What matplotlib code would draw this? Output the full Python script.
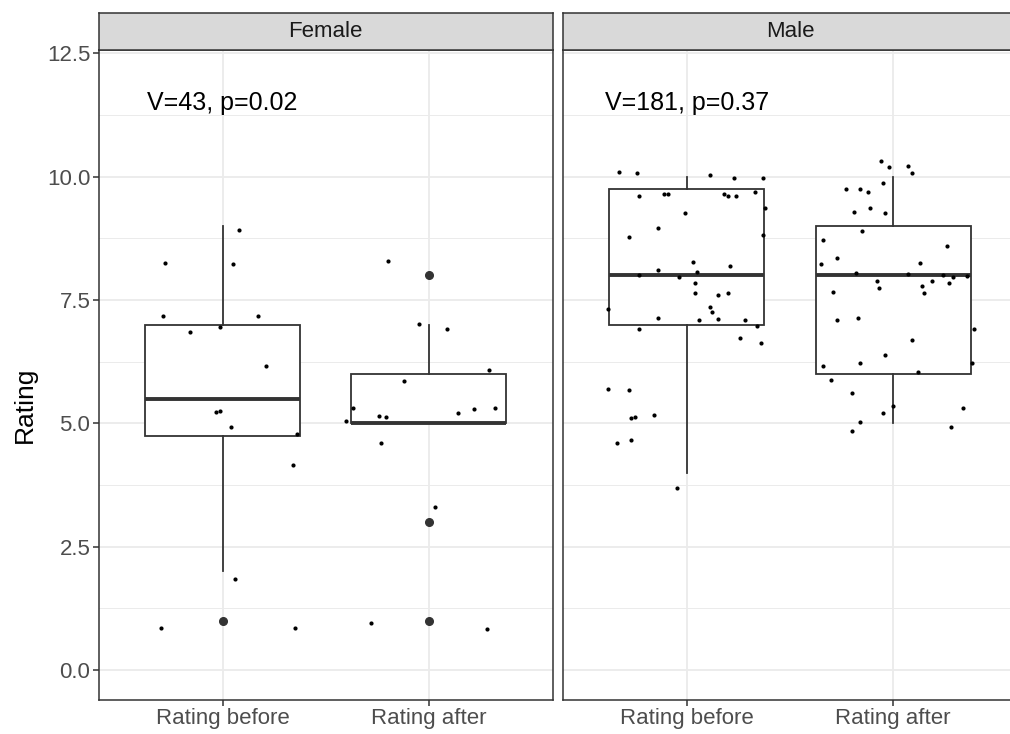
import matplotlib
matplotlib.use("Agg")
import matplotlib.pyplot as plt
from matplotlib.ticker import MultipleLocator

plt.rcParams["font.family"] = ["Liberation Sans", "DejaVu Sans"]

# categories and panels
panels = ["Female", "Male"]
categories = ["Rating before", "Rating after"]
stat_labels = ["V=43, p=0.02", "V=181, p=0.37"]

# box statistics: (whislo, q1, med, q3, whishi, fliers)
female_before_box = (2.0, 4.75, 5.5, 7.0, 9.0, [1.0])
female_after_box = (5.0, 5.0, 5.0, 6.0, 7.0, [8.0, 3.0, 1.0])
male_before_box = (4.0, 7.0, 8.0, 9.75, 10.0, [])
male_after_box = (5.0, 6.0, 8.0, 9.0, 10.0, [])

# jittered observations: value and horizontal jitter offset
female_before_vals = [8.92, 8.25, 8.23, 7.17, 7.17, 6.96, 6.86, 6.17, 5.23, 5.24,
                      4.92, 4.78, 4.16, 1.85, 0.85, 0.84]
female_before_jit = [0.08, -0.28, 0.05, -0.29, 0.17, -0.01, -0.16, 0.21, -0.03, -0.01,
                     0.04, 0.36, 0.34, 0.06, -0.30, 0.35]

female_after_vals = [8.29, 7.01, 6.92, 6.09, 5.85, 5.32, 5.29, 5.31, 5.21, 5.14,
                     5.13, 5.04, 4.61, 3.31, 0.96, 0.83]
female_after_jit = [-0.20, -0.05, 0.09, 0.29, -0.12, -0.37, 0.22, 0.32, 0.14, -0.24,
                    -0.21, -0.40, -0.23, 0.03, -0.28, 0.28]

male_before_vals = [10.09, 10.07, 10.04, 9.98, 9.97, 9.70, 9.60, 9.65, 9.66, 9.65,
                    9.61, 9.61, 9.36, 9.26, 8.96, 8.77, 8.81, 8.28, 8.19, 8.10,
                    8.06, 8.01, 7.96, 7.84, 7.65, 7.61, 7.65, 7.36, 7.26, 7.31,
                    7.13, 7.10, 7.12, 7.10, 6.97, 6.92, 6.73, 6.63, 5.69, 5.68,
                    5.17, 5.11, 5.13, 4.67, 4.60, 3.69]
male_before_jit = [-0.33, -0.24, 0.11, 0.23, 0.37, 0.33, -0.23, -0.11, -0.09, 0.18,
                   0.20, 0.24, 0.38, -0.01, -0.14, -0.28, 0.37, 0.03, 0.21, -0.14,
                   0.05, -0.23, -0.04, 0.04, 0.04, 0.15, 0.20, 0.11, 0.12, -0.38,
                   -0.14, 0.06, 0.15, 0.28, 0.34, -0.23, 0.26, 0.36, -0.38, -0.28,
                   -0.16, -0.27, -0.25, -0.27, -0.34, -0.05]

male_after_vals = [10.32, 10.20, 10.22, 10.07, 9.87, 9.76, 9.75, 9.69, 9.28, 9.36,
                   9.26, 8.90, 8.71, 8.59, 8.36, 8.24, 8.26, 8.05, 8.03, 8.01,
                   7.96, 7.99, 7.89, 7.84, 7.88, 7.74, 7.78, 7.65, 7.67, 7.09,
                   7.13, 6.91, 6.68, 6.38, 6.23, 6.23, 6.17, 6.05, 5.87, 5.61,
                   5.36, 5.31, 5.20, 5.02, 4.93, 4.85]
male_after_jit = [-0.06, -0.02, 0.07, 0.09, -0.05, -0.23, -0.16, -0.12, -0.19, -0.11,
                  -0.04, -0.15, -0.34, 0.26, -0.27, -0.35, 0.13, -0.18, 0.07, 0.24,
                  0.29, 0.36, 0.19, 0.27, -0.08, -0.07, 0.14, 0.15, -0.29, -0.27,
                  -0.17, 0.39, 0.09, -0.04, -0.16, 0.38, -0.34, 0.12, -0.30, -0.20,
                  0.00, 0.34, -0.05, -0.16, 0.28, -0.20]

boxes = [[female_before_box, female_after_box], [male_before_box, male_after_box]]
points = [[(female_before_vals, female_before_jit), (female_after_vals, female_after_jit)],
          [(male_before_vals, male_before_jit), (male_after_vals, male_after_jit)]]

W, H = 1010, 734
fig = plt.figure(figsize=(W / 100, H / 100), dpi=100)

grey20 = "#333333"
grid_col = "#EBEBEB"

panel_left = [98.7, 563.0]
panel_w = 454.0
panel_top, panel_bot = 50.0, 700.0
strip_top = 13.3

for p, name in enumerate(panels):
    ax = fig.add_axes([panel_left[p] / W, (H - panel_bot) / H,
                       panel_w / W, (panel_bot - panel_top) / H])
    stats = []
    for b in boxes[p]:
        stats.append(dict(whislo=b[0], q1=b[1], med=b[2], q3=b[3], whishi=b[4], fliers=b[5]))
    ax.bxp(stats, positions=[1, 2], widths=0.75, showcaps=False, patch_artist=True,
           boxprops=dict(facecolor="white", edgecolor=grey20, linewidth=1.3),
           whiskerprops=dict(color=grey20, linewidth=1.3),
           medianprops=dict(color=grey20, linewidth=2.8),
           flierprops=dict(marker="o", markerfacecolor=grey20, markeredgecolor=grey20,
                           markersize=5.5),
           zorder=2)
    for c, (vals, jit) in enumerate(points[p]):
        xs = [c + 1 + j for j in jit]
        ax.scatter(xs, vals, s=9, color="black", zorder=3, linewidths=0)

    ax.text(1, 11.5, stat_labels[p], ha="center", va="center", fontsize=18, color="black")

    ax.set_xlim(0.4, 2.6)
    ax.set_ylim(-0.61, 12.57)
    ax.set_xticks([1, 2])
    ax.set_xticklabels(categories)
    ax.yaxis.set_major_locator(MultipleLocator(2.5))
    ax.yaxis.set_minor_locator(MultipleLocator(1.25))
    ax.yaxis.set_major_formatter(plt.FormatStrFormatter("%.1f"))
    ax.grid(True, which="major", color=grid_col, linewidth=1.3, zorder=0)
    ax.grid(True, which="minor", axis="y", color=grid_col, linewidth=0.7, zorder=0)
    ax.set_axisbelow(True)
    ax.tick_params(axis="both", which="major", length=4, width=1.1, color=grey20,
                   labelsize=16, labelcolor="#4D4D4D", pad=2)
    ax.tick_params(axis="both", which="minor", length=0)
    if p == 1:
        ax.tick_params(axis="y", which="major", left=False, labelleft=False)
    for s in ax.spines.values():
        s.set_color(grey20)
        s.set_linewidth(1.1)

    # facet strip
    sax = fig.add_axes([panel_left[p] / W, (H - panel_top) / H,
                        panel_w / W, (panel_top - strip_top) / H])
    sax.set_facecolor("#D9D9D9")
    sax.set_xticks([])
    sax.set_yticks([])
    for s in sax.spines.values():
        s.set_color(grey20)
        s.set_linewidth(1.1)
    sax.text(0.5, 0.5, name, ha="center", va="center", fontsize=16, color="#1A1A1A",
             transform=sax.transAxes)

fig.text(25 / W, 1 - 405 / H, "Rating", rotation=90, ha="center", va="center",
         fontsize=19, color="black")

fig.savefig("out.png", dpi=100)
